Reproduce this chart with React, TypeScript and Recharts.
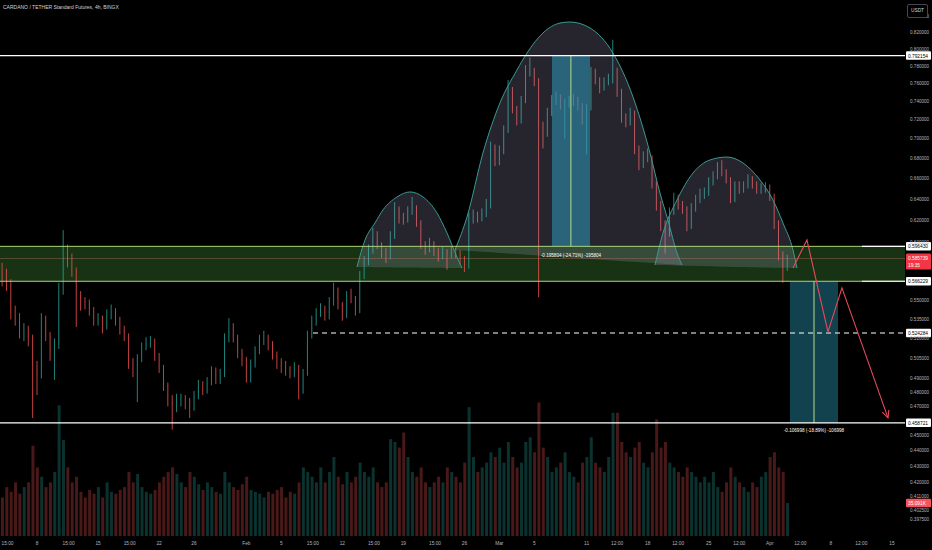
import {
  ComposedChart,
  Bar,
  Area,
  Line,
  XAxis,
  YAxis,
  ReferenceLine,
  ReferenceArea,
} from 'recharts';

// 12h candles, first one at Jan 4 00:00 (t = days since Jan 1, 2024)
const START_T = 3;
const STEP_T = 0.5;

const opens = [
  0.575, 0.569, 0.565, 0.539, 0.536, 0.525, 0.526, 0.520, 0.499, 0.492,
  0.536, 0.522, 0.509, 0.516, 0.558, 0.588, 0.583, 0.574, 0.555, 0.549,
  0.548, 0.542, 0.535, 0.535, 0.529, 0.538, 0.542, 0.534, 0.527, 0.522,
  0.501, 0.497, 0.505, 0.514, 0.517, 0.518, 0.507, 0.498, 0.485, 0.474,
  0.470, 0.475, 0.475, 0.474, 0.470, 0.478, 0.485, 0.482, 0.487, 0.496,
  0.490, 0.493, 0.520, 0.530, 0.521, 0.509, 0.504, 0.490, 0.501, 0.511,
  0.520, 0.520, 0.516, 0.508, 0.501, 0.499, 0.496, 0.494, 0.498, 0.482,
  0.494, 0.523, 0.534, 0.540, 0.544, 0.538, 0.549, 0.559, 0.547, 0.538,
  0.555, 0.552, 0.542, 0.571, 0.584, 0.593, 0.607, 0.598, 0.591, 0.589,
  0.606, 0.631, 0.622, 0.621, 0.629, 0.632, 0.618, 0.598, 0.594, 0.599,
  0.592, 0.588, 0.592, 0.589, 0.592, 0.590, 0.585, 0.579, 0.622, 0.624,
  0.623, 0.627, 0.634, 0.691, 0.678, 0.688, 0.709, 0.753, 0.732, 0.720,
  0.742, 0.775, 0.775, 0.762, 0.712, 0.706, 0.728, 0.742, 0.745, 0.736,
  0.738, 0.740, 0.742, 0.736, 0.722, 0.733, 0.774, 0.764, 0.755, 0.762,
  0.765, 0.775, 0.751, 0.723, 0.719, 0.728, 0.690, 0.674, 0.681, 0.681,
  0.655, 0.635, 0.616, 0.609, 0.628, 0.641, 0.635, 0.631, 0.615, 0.632,
  0.640, 0.646, 0.646, 0.657, 0.662, 0.672, 0.666, 0.659, 0.640, 0.654,
  0.650, 0.653, 0.659, 0.654, 0.649, 0.651, 0.651, 0.642, 0.617, 0.589,
  0.578,
];

const highs = [
  0.582, 0.577, 0.568, 0.546, 0.540, 0.532, 0.530, 0.523, 0.503, 0.540,
  0.538, 0.525, 0.520, 0.565, 0.611, 0.598, 0.590, 0.578, 0.558, 0.553,
  0.551, 0.545, 0.540, 0.538, 0.543, 0.547, 0.544, 0.537, 0.530, 0.524,
  0.505, 0.508, 0.517, 0.521, 0.522, 0.520, 0.509, 0.500, 0.487, 0.478,
  0.479, 0.479, 0.478, 0.476, 0.481, 0.489, 0.488, 0.491, 0.499, 0.498,
  0.497, 0.524, 0.536, 0.532, 0.523, 0.512, 0.506, 0.504, 0.514, 0.523,
  0.526, 0.523, 0.518, 0.510, 0.505, 0.503, 0.499, 0.502, 0.500, 0.497,
  0.526, 0.538, 0.544, 0.548, 0.546, 0.553, 0.565, 0.561, 0.549, 0.558,
  0.560, 0.554, 0.575, 0.588, 0.598, 0.613, 0.610, 0.600, 0.595, 0.610,
  0.637, 0.633, 0.627, 0.633, 0.642, 0.634, 0.620, 0.601, 0.604, 0.601,
  0.595, 0.596, 0.594, 0.596, 0.595, 0.593, 0.588, 0.627, 0.630, 0.628,
  0.631, 0.640, 0.697, 0.694, 0.693, 0.714, 0.764, 0.756, 0.735, 0.746,
  0.781, 0.790, 0.778, 0.766, 0.718, 0.733, 0.747, 0.751, 0.748, 0.743,
  0.746, 0.748, 0.745, 0.738, 0.737, 0.779, 0.777, 0.767, 0.767, 0.771,
  0.811, 0.778, 0.754, 0.727, 0.733, 0.730, 0.693, 0.687, 0.690, 0.683,
  0.657, 0.638, 0.620, 0.632, 0.646, 0.644, 0.638, 0.633, 0.636, 0.644,
  0.650, 0.651, 0.661, 0.667, 0.676, 0.678, 0.669, 0.661, 0.657, 0.657,
  0.657, 0.664, 0.662, 0.657, 0.655, 0.656, 0.654, 0.645, 0.620, 0.592,
  0.589,
];

const lows = [
  0.562, 0.558, 0.535, 0.530, 0.520, 0.518, 0.514, 0.462, 0.478, 0.490,
  0.518, 0.503, 0.489, 0.512, 0.555, 0.578, 0.570, 0.529, 0.542, 0.543,
  0.538, 0.530, 0.530, 0.524, 0.527, 0.535, 0.530, 0.523, 0.518, 0.497,
  0.491, 0.473, 0.502, 0.511, 0.513, 0.503, 0.494, 0.481, 0.470, 0.454,
  0.466, 0.470, 0.468, 0.462, 0.467, 0.475, 0.478, 0.479, 0.485, 0.486,
  0.486, 0.491, 0.517, 0.517, 0.505, 0.499, 0.487, 0.487, 0.498, 0.508,
  0.515, 0.511, 0.504, 0.497, 0.494, 0.492, 0.490, 0.491, 0.475, 0.479,
  0.492, 0.520, 0.530, 0.537, 0.534, 0.535, 0.546, 0.543, 0.534, 0.536,
  0.548, 0.538, 0.540, 0.568, 0.580, 0.590, 0.594, 0.586, 0.582, 0.585,
  0.603, 0.617, 0.616, 0.618, 0.625, 0.614, 0.594, 0.589, 0.591, 0.588,
  0.583, 0.585, 0.576, 0.586, 0.586, 0.581, 0.574, 0.577, 0.617, 0.618,
  0.619, 0.623, 0.631, 0.672, 0.673, 0.684, 0.706, 0.727, 0.714, 0.716,
  0.738, 0.768, 0.757, 0.553, 0.690, 0.702, 0.724, 0.736, 0.731, 0.700,
  0.733, 0.735, 0.730, 0.715, 0.684, 0.730, 0.759, 0.749, 0.752, 0.758,
  0.760, 0.745, 0.717, 0.712, 0.714, 0.684, 0.668, 0.670, 0.676, 0.650,
  0.629, 0.610, 0.590, 0.605, 0.625, 0.630, 0.626, 0.610, 0.612, 0.628,
  0.636, 0.640, 0.643, 0.653, 0.659, 0.662, 0.655, 0.636, 0.637, 0.645,
  0.646, 0.650, 0.650, 0.645, 0.645, 0.646, 0.638, 0.612, 0.584, 0.565,
  0.575,
];

const closes = [
  0.569, 0.565, 0.539, 0.536, 0.525, 0.526, 0.520, 0.499, 0.492, 0.536,
  0.522, 0.509, 0.516, 0.558, 0.588, 0.583, 0.574, 0.555, 0.549, 0.548,
  0.542, 0.535, 0.535, 0.529, 0.538, 0.542, 0.534, 0.527, 0.522, 0.501,
  0.497, 0.505, 0.514, 0.517, 0.518, 0.507, 0.498, 0.485, 0.474, 0.470,
  0.475, 0.475, 0.474, 0.470, 0.478, 0.485, 0.482, 0.487, 0.496, 0.490,
  0.493, 0.520, 0.530, 0.521, 0.509, 0.504, 0.490, 0.501, 0.511, 0.520,
  0.520, 0.516, 0.508, 0.501, 0.499, 0.496, 0.494, 0.498, 0.482, 0.494,
  0.523, 0.534, 0.540, 0.544, 0.538, 0.549, 0.559, 0.547, 0.538, 0.555,
  0.552, 0.542, 0.571, 0.584, 0.593, 0.607, 0.598, 0.591, 0.589, 0.606,
  0.631, 0.622, 0.621, 0.629, 0.632, 0.618, 0.598, 0.594, 0.599, 0.592,
  0.588, 0.592, 0.589, 0.592, 0.590, 0.585, 0.579, 0.622, 0.624, 0.623,
  0.627, 0.634, 0.691, 0.678, 0.688, 0.709, 0.753, 0.732, 0.720, 0.742,
  0.775, 0.775, 0.762, 0.712, 0.706, 0.728, 0.742, 0.745, 0.736, 0.738,
  0.740, 0.742, 0.736, 0.722, 0.733, 0.774, 0.764, 0.755, 0.762, 0.765,
  0.775, 0.751, 0.723, 0.719, 0.728, 0.690, 0.674, 0.681, 0.681, 0.655,
  0.635, 0.616, 0.609, 0.628, 0.641, 0.635, 0.631, 0.615, 0.632, 0.640,
  0.646, 0.646, 0.657, 0.662, 0.672, 0.666, 0.659, 0.640, 0.654, 0.650,
  0.653, 0.659, 0.654, 0.649, 0.651, 0.651, 0.642, 0.617, 0.589, 0.578,
  0.586,
];

// volume in K
const volumes = [
  41, 52, 47, 57, 45, 52, 57, 96, 73, 63,
  52, 57, 68, 139, 102, 73, 57, 63, 47, 41,
  49, 45, 52, 41, 57, 47, 45, 49, 52, 68,
  57, 66, 52, 47, 45, 49, 57, 63, 68, 73,
  66, 57, 52, 68, 63, 55, 49, 57, 52, 47,
  45, 68, 57, 52, 49, 55, 63, 49, 47, 45,
  41, 47, 45, 49, 52, 41, 47, 45, 57, 73,
  68, 63, 57, 73, 57, 68, 84, 63, 55, 68,
  57, 63, 78, 68, 63, 73, 57, 52, 57, 103,
  100, 94, 110, 84, 68, 63, 73, 57, 52, 57,
  63, 57, 73, 68, 63, 57, 78, 137, 84, 68,
  73, 78, 89, 84, 94, 78, 100, 84, 73, 78,
  100, 105, 89, 142, 94, 84, 68, 73, 78, 89,
  68, 63, 57, 78, 84, 105, 78, 73, 68, 84,
  131, 131, 100, 89, 84, 94, 100, 78, 73, 89,
  124, 94, 100, 78, 73, 68, 63, 73, 68, 63,
  57, 63, 57, 68, 52, 47, 57, 73, 63, 57,
  52, 47, 57, 52, 63, 68, 84, 89, 73, 68,
  35.091,
];

// head & shoulders arcs: time, arc top, chord base
const leftShoulderT = [43.68, 44.6, 45.74, 46.66, 48.27, 49.76, 51.25, 52.85, 54.0, 55.14, 55.72];
const leftShoulderP = [0.5784, 0.6021, 0.6175, 0.6296, 0.6419, 0.6467, 0.6419, 0.6268, 0.6084, 0.587, 0.5775];
const leftShoulderBase = [0.5784, 0.5783, 0.5782, 0.5781, 0.578, 0.5779, 0.5778, 0.5777, 0.5776, 0.5776, 0.5775];

const headT = [54.91, 56.29, 58.12, 60.07, 62.02, 63.17, 65.0, 66.95, 68.1, 70.39, 73.02, 75.32, 77.27, 78.41, 79.33, 80.36, 80.93];
const headP = [0.5932, 0.623, 0.6853, 0.7383, 0.7754, 0.7952, 0.8193, 0.8315, 0.8328, 0.8254, 0.7952, 0.7449, 0.6853, 0.6457, 0.6202, 0.5906, 0.5801];
const headBase = [0.5932, 0.5925, 0.5916, 0.5906, 0.5896, 0.589, 0.5881, 0.5871, 0.5866, 0.5854, 0.5841, 0.5829, 0.582, 0.5814, 0.5809, 0.5804, 0.5801];

const rightShoulderT = [77.84, 78.76, 80.36, 82.2, 84.14, 86.09, 87.93, 89.88, 91.37, 92.51, 93.66, 94.12];
const rightShoulderP = [0.5801, 0.6084, 0.639, 0.6652, 0.6782, 0.6812, 0.6752, 0.6583, 0.639, 0.6175, 0.5932, 0.5775];
const rightShoulderBase = [0.5801, 0.58, 0.5797, 0.5794, 0.579, 0.5787, 0.5783, 0.578, 0.5778, 0.5777, 0.5776, 0.5775];

// projected path
const projT = [93.66, 95.26, 97.67, 99.27, 104.55];
const projP = [0.5776, 0.6021, 0.5251, 0.5607, 0.4621];

const priceTicks = [
  0.84, 0.82, 0.8, 0.78, 0.76, 0.74, 0.72, 0.7, 0.68, 0.66, 0.64, 0.62, 0.6,
  0.55, 0.535, 0.52, 0.505, 0.49, 0.48, 0.47, 0.45, 0.44, 0.43, 0.42, 0.411, 0.4025, 0.3975,
];

const timeTicks = [3.625, 7, 10.625, 14, 17.625, 21, 25, 31, 35, 38.625, 42, 45.625, 49, 52.625, 56, 60, 64, 70, 73.5, 77, 80.5, 84, 87.5, 91, 94.5, 98, 101.5, 105];
const timeLabels = ['15:00', '8', '15:00', '15', '15:00', '22', '26', 'Feb', '5', '15:00', '12', '15:00', '19', '15:00', '26', 'Mar', '5', '11', '12:00', '18', '12:00', '25', '12:00', 'Apr', '12:00', '8', '12:00', '15'];

const TOP_LINE = 0.792154;
const ZONE_HI = 0.59643;
const ZONE_LO = 0.566229;
const MID_LINE = 0.524284;
const TARGET = 0.458721;
const LAST = 0.585739;

const candles = closes.map((c, i) => ({
  t: START_T + i * STEP_T,
  o: opens[i],
  h: highs[i],
  l: lows[i],
  c,
  range: [lows[i], highs[i]],
  vol: volumes[i],
}));

const arc = (ts: number[], ps: number[], bs: number[]) =>
  ts.map((t, i) => ({ t, top: ps[i], band: [bs[i], ps[i]] }));

const leftShoulder = arc(leftShoulderT, leftShoulderP, leftShoulderBase);
const head = arc(headT, headP, headBase);
const rightShoulder = arc(rightShoulderT, rightShoulderP, rightShoulderBase);
const projection = projT.map((t, i) => ({ t, p: projP[i] }));

const UP = '#26a69a';
const DOWN = '#ef5350';
const T_MIN = 2.759;
const T_MAX = 106.5;

const Candle = (props: any) => {
  const { x, y, width, height, payload } = props;
  if (!payload) return <g />;
  const yTop = Math.min(y, y + height);
  const hpx = Math.abs(height);
  const lh = Math.log(payload.h);
  const span = lh - Math.log(payload.l) || 1;
  const py = (v: number) => yTop + ((lh - Math.log(v)) / span) * hpx;
  const color = payload.c >= payload.o ? UP : DOWN;
  const cx = x + width / 2;
  const bTop = py(Math.max(payload.o, payload.c));
  const bBot = py(Math.min(payload.o, payload.c));
  return (
    <g>
      <line x1={cx} x2={cx} y1={yTop} y2={yTop + hpx} stroke={color} strokeWidth={0.8} />
      <rect x={x} y={bTop} width={width} height={Math.max(bBot - bTop, 0.8)} fill={color} />
    </g>
  );
};

const VolBar = (props: any) => {
  const { x, y, width, height, payload } = props;
  if (!payload) return <g />;
  const color = payload.c >= payload.o ? 'rgba(38,166,154,0.3)' : 'rgba(239,83,80,0.3)';
  return <rect x={x} y={Math.min(y, y + height)} width={width} height={Math.abs(height)} fill={color} />;
};

const Tag = (props: any) => {
  const { viewBox, text, bg, fg, sub } = props;
  if (!viewBox) return null;
  const x = viewBox.x + viewBox.width + 1;
  const y = viewBox.y;
  const h = sub ? 16 : 8.5;
  const top = sub ? y - 5 : y - h / 2;
  return (
    <g>
      <rect x={x} y={top} width={25} height={h} fill={bg} rx={1} />
      <text x={x + 2} y={top + 6.2} fontSize={4.8} fill={fg}>{text}</text>
      {sub && <text x={x + 2} y={top + 13.2} fontSize={4.8} fill={fg}>{sub}</text>}
    </g>
  );
};

const Arrow = (props: any) => {
  const { cx, cy, index } = props;
  if (index !== projT.length - 1) return <g key={index} />;
  const ang = Math.atan2(130, 46);
  const back = ang + Math.PI;
  const len = 8;
  const a1 = back - 0.45;
  const a2 = back + 0.45;
  return (
    <path
      key={index}
      d={`M${cx + len * Math.cos(a1)},${cy + len * Math.sin(a1)} L${cx},${cy} L${cx + len * Math.cos(a2)},${cy + len * Math.sin(a2)}`}
      stroke="#e84a5f"
      strokeWidth={1.1}
      fill="none"
    />
  );
};

const ZONE_EDGE = '#a9d47a';
const ARC_FILL = 'rgba(175,165,200,0.22)';
const ARC_STROKE = '#3a9a92';

export default function App() {
  return (
    <div
      style={{
        position: 'relative',
        width: 932,
        height: 550,
        background: '#000',
        fontFamily: '"Liberation Sans", Arial, sans-serif',
        overflow: 'hidden',
      }}
    >
      <style>{'body{margin:0;background:#000}'}</style>
      <div style={{ position: 'absolute', left: 3, top: 4, fontSize: 5, color: '#d1d4dc', zIndex: 2 }}>
        CARDANO / TETHER Standard Futures, 4h, BINGX
      </div>
      <div
        style={{
          position: 'absolute',
          left: 907,
          top: 4,
          width: 19,
          height: 12,
          border: '1px solid #434651',
          borderRadius: 2,
          fontSize: 4.8,
          color: '#d1d4dc',
          lineHeight: '12px',
          textAlign: 'center',
          zIndex: 2,
          background: '#000',
        }}
      >
        USDT
      </div>
      <ComposedChart width={932} height={550} data={candles} margin={{ top: 0, right: 0, bottom: 0, left: 0 }}>
        <XAxis
          dataKey="t"
          type="number"
          domain={[T_MIN, T_MAX]}
          allowDataOverflow
          ticks={timeTicks}
          interval={0}
          tickFormatter={(v: number) => timeLabels[timeTicks.indexOf(v)] ?? ''}
          height={14}
          axisLine={false}
          tickLine={false}
          tickMargin={0}
          tick={{ fill: '#b2b5be', fontSize: 4.8 }}
        />
        <XAxis xAxisId="vol" dataKey="t" type="number" domain={[T_MIN, T_MAX]} allowDataOverflow hide />
        <YAxis
          yAxisId="p"
          orientation="right"
          type="number"
          scale="log"
          domain={[0.3876, 0.8605]}
          allowDataOverflow
          ticks={priceTicks}
          interval={0}
          tickFormatter={(v: number) => v.toFixed(6)}
          width={27}
          axisLine={false}
          tickLine={false}
          tickSize={0}
          tickMargin={5}
          tick={{ fill: '#b2b5be', fontSize: 4.6, textAnchor: 'start' }}
        />
        <YAxis yAxisId="v" type="number" domain={[0, 570]} allowDataOverflow hide />

        <ReferenceArea
          yAxisId="p"
          y1={ZONE_LO}
          y2={ZONE_HI}
          fill="rgba(72,160,60,0.32)"
          fillOpacity={1}
          stroke="none"
          zIndex={10}
        />

        <Bar xAxisId="vol" yAxisId="v" dataKey="vol" barSize={3} shape={VolBar} isAnimationActive={false} zIndex={20} />
        <Bar yAxisId="p" dataKey="range" barSize={3} shape={Candle} isAnimationActive={false} zIndex={30} />

        <Area data={leftShoulder} yAxisId="p" dataKey="band" type="monotone" fill={ARC_FILL} fillOpacity={1} stroke="none" dot={false} activeDot={false} isAnimationActive={false} zIndex={40} />
        <Area data={head} yAxisId="p" dataKey="band" type="monotone" fill={ARC_FILL} fillOpacity={1} stroke="none" dot={false} activeDot={false} isAnimationActive={false} zIndex={40} />
        <Area data={rightShoulder} yAxisId="p" dataKey="band" type="monotone" fill={ARC_FILL} fillOpacity={1} stroke="none" dot={false} activeDot={false} isAnimationActive={false} zIndex={40} />
        <Line data={leftShoulder} yAxisId="p" dataKey="top" type="monotone" stroke={ARC_STROKE} strokeWidth={1} dot={false} activeDot={false} isAnimationActive={false} zIndex={45} />
        <Line data={head} yAxisId="p" dataKey="top" type="monotone" stroke={ARC_STROKE} strokeWidth={1} dot={false} activeDot={false} isAnimationActive={false} zIndex={45} />
        <Line data={rightShoulder} yAxisId="p" dataKey="top" type="monotone" stroke={ARC_STROKE} strokeWidth={1} dot={false} activeDot={false} isAnimationActive={false} zIndex={45} />

        <ReferenceArea
          yAxisId="p"
          x1={66.03}
          x2={70.39}
          y1={ZONE_HI}
          y2={TOP_LINE}
          fill="rgba(45,140,172,0.62)"
          fillOpacity={1}
          stroke="none"
          zIndex={50}
          label={{ value: '-0.195804 (-24.71%) -195804', position: 'bottom', offset: 7, fill: '#ffffff', fontSize: 4.6 }}
        />
        <ReferenceArea
          yAxisId="p"
          x1={93.31}
          x2={98.82}
          y1={TARGET}
          y2={ZONE_LO}
          fill="rgba(32,120,140,0.55)"
          fillOpacity={1}
          stroke="none"
          zIndex={50}
          label={{ value: '-0.106998 (-18.89%) -106998', position: 'bottom', offset: 6, fill: '#ffffff', fontSize: 4.6 }}
        />
        <ReferenceLine yAxisId="p" segment={[{ x: 68.2, y: TOP_LINE }, { x: 68.2, y: ZONE_HI }]} stroke="#b7d98b" strokeWidth={1} zIndex={55} />
        <ReferenceLine yAxisId="p" segment={[{ x: 96.07, y: ZONE_LO }, { x: 96.07, y: TARGET }]} stroke="#b7d98b" strokeWidth={1} zIndex={55} />

        <ReferenceLine yAxisId="p" y={LAST} stroke="rgba(200,120,110,0.35)" strokeWidth={1} zIndex={58}
          label={<Tag text="0.585739" sub="19:35" bg="#f23645" fg="#ffffff" />} />
        <ReferenceLine yAxisId="p" y={ZONE_HI} stroke={ZONE_EDGE} strokeWidth={1} zIndex={60}
          label={<Tag text="0.596430" bg="#ffffff" fg="#000000" />} />
        <ReferenceLine yAxisId="p" y={ZONE_LO} stroke={ZONE_EDGE} strokeWidth={1} zIndex={60}
          label={<Tag text="0.566229" bg="#ffffff" fg="#000000" />} />
        <ReferenceLine yAxisId="p" segment={[{ x: 101.57, y: ZONE_HI }, { x: T_MAX, y: ZONE_HI }]} stroke="#ffffff" strokeWidth={1.2} zIndex={61} />
        <ReferenceLine yAxisId="p" segment={[{ x: 101.57, y: ZONE_LO }, { x: T_MAX, y: ZONE_LO }]} stroke="#ffffff" strokeWidth={1.2} zIndex={61} />
        <ReferenceLine yAxisId="p" y={TOP_LINE} stroke="#ffffff" strokeWidth={1.2} zIndex={60}
          label={<Tag text="0.792154" bg="#ffffff" fg="#000000" />} />
        <ReferenceLine yAxisId="p" y={TARGET} stroke="#ffffff" strokeWidth={1.2} zIndex={60}
          label={<Tag text="0.458721" bg="#ffffff" fg="#000000" />} />
        <ReferenceLine yAxisId="p" segment={[{ x: 38.64, y: MID_LINE }, { x: T_MAX, y: MID_LINE }]} stroke="#ffffff" strokeWidth={1.2} strokeDasharray="5 4" zIndex={60}
          label={<Tag text="0.524284" bg="#ffffff" fg="#000000" />} />
        <ReferenceLine yAxisId="v" y={35.091} stroke="none" zIndex={60}
          label={<Tag text="35.091K" bg="#f7525f" fg="#ffffff" />} />

        <Line data={projection} yAxisId="p" dataKey="p" type="linear" stroke="#e84a5f" strokeWidth={1.1} dot={Arrow} activeDot={false} isAnimationActive={false} zIndex={70} />
      </ComposedChart>
    </div>
  );
}
